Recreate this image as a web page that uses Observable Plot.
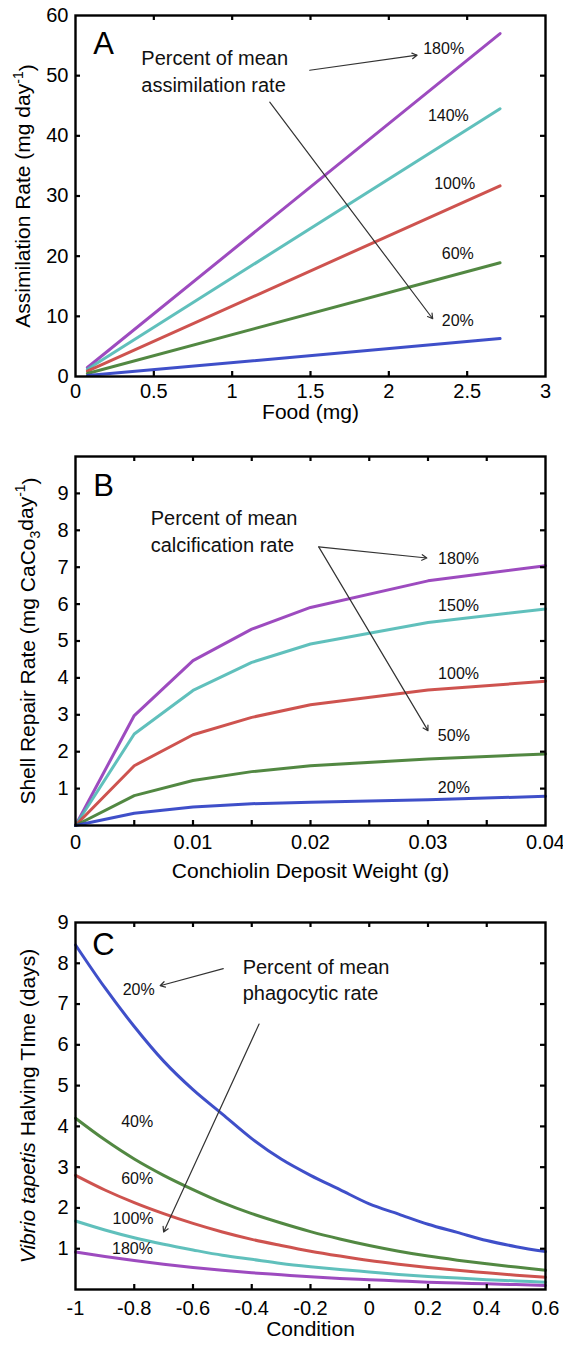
<!DOCTYPE html>
<html><head><meta charset="utf-8">
<script src="https://cdn.jsdelivr.net/npm/d3@7"></script>
<script src="https://cdn.jsdelivr.net/npm/@observablehq/plot@0.6"></script>
<style>
body{margin:0;background:#fff;}
#wrap{width:563px;}
#wrap svg{display:block;}
</style></head><body><div id="wrap"></div>
<script>
// ---------- Panel A data ----------
const foodX = [0.076, 2.71];
const assimLabels = ["180%", "140%", "100%", "60%", "20%"];
const assim180 = [1.5, 57.0];
const assim140 = [1.2, 44.5];
const assim100 = [0.9, 31.7];
const assim60 = [0.5, 18.9];
const assim20 = [0.15, 6.3];
const assimLabelX = [2.35, 2.38, 2.42, 2.44, 2.44];
const assimLabelY = [54.5, 43.4, 32.0, 20.3, 9.2];
const aXTicks = [0, 0.5, 1, 1.5, 2, 2.5, 3];
const aXTickLabels = ["0", "0.5", "1", "1.5", "2", "2.5", "3"];
const aYTicks = [0, 10, 20, 30, 40, 50, 60];
const aYTickLabels = ["0", "10", "20", "30", "40", "50", "60"];

// ---------- Panel B data ----------
const depositX = [0, 0.005, 0.01, 0.015, 0.02, 0.03, 0.04];
const calcLabels = ["180%", "150%", "100%", "50%", "20%"];
const calc180 = [0, 2.98, 4.47, 5.32, 5.91, 6.63, 7.04];
const calc150 = [0, 2.48, 3.66, 4.42, 4.92, 5.50, 5.87];
const calc100 = [0, 1.62, 2.46, 2.93, 3.27, 3.67, 3.91];
const calc50 = [0, 0.81, 1.22, 1.46, 1.62, 1.80, 1.94];
const calc20 = [0, 0.33, 0.50, 0.59, 0.63, 0.70, 0.79];
const calcLabelX = [0.0326, 0.0326, 0.0326, 0.0322, 0.0322];
const calcLabelY = [7.22, 5.96, 4.11, 2.44, 1.01];
const bXTicks = [0, 0.01, 0.02, 0.03, 0.04];
const bXTickLabels = ["0", "0.01", "0.02", "0.03", "0.04"];
const bYTicks = [1, 2, 3, 4, 5, 6, 7, 8, 9];
const bYTickLabels = ["1", "2", "3", "4", "5", "6", "7", "8", "9"];

// ---------- Panel C data ----------
const conditionX = [-1, -0.9, -0.8, -0.7, -0.6, -0.5, -0.4, -0.3, -0.2, -0.1, 0, 0.1, 0.2, 0.3, 0.4, 0.5, 0.6];
const phagoLabels = ["20%", "40%", "60%", "100%", "180%"];
const phago20 = [8.45, 7.4, 6.45, 5.6, 4.9, 4.3, 3.7, 3.2, 2.8, 2.45, 2.1, 1.85, 1.6, 1.4, 1.2, 1.05, 0.93];
const phago40 = [4.2, 3.67, 3.2, 2.8, 2.45, 2.13, 1.86, 1.63, 1.42, 1.24, 1.08, 0.94, 0.82, 0.72, 0.63, 0.55, 0.47];
const phago60 = [2.8, 2.44, 2.13, 1.86, 1.62, 1.41, 1.23, 1.08, 0.94, 0.82, 0.71, 0.62, 0.54, 0.47, 0.41, 0.35, 0.3];
const phago100 = [1.68, 1.46, 1.27, 1.11, 0.97, 0.84, 0.74, 0.64, 0.56, 0.49, 0.43, 0.37, 0.32, 0.28, 0.24, 0.21, 0.18];
const phago180 = [0.92, 0.81, 0.71, 0.62, 0.54, 0.47, 0.41, 0.36, 0.31, 0.27, 0.24, 0.21, 0.18, 0.16, 0.14, 0.12, 0.1];
const phagoLabelX = [-0.785, -0.79, -0.79, -0.804, -0.806];
const phagoLabelY = [7.36, 4.1, 2.71, 1.73, 1.0];
const cXTicks = [-1, -0.8, -0.6, -0.4, -0.2, 0, 0.2, 0.4, 0.6];
const cXTickLabels = ["-1", "-0.8", "-0.6", "-0.4", "-0.2", "0", "0.2", "0.4", "0.6"];
const cYTicks = [1, 2, 3, 4, 5, 6, 7, 8, 9];
const cYTickLabels = ["1", "2", "3", "4", "5", "6", "7", "8", "9"];

// colours (purple, cyan, red, green, blue)
const lineColors = ["#9237b8", "#4fb9b5", "#c9403c", "#3f7b2d", "#2a3cc3"];

const FONT = "'Liberation Sans', Arial, Helvetica, sans-serif";
const W = 563, ML = 75, MR = 18;

function rowsOf(xs, seriesList, labels) {
  const rows = [];
  seriesList.forEach((ys, k) => ys.forEach((y, i) => rows.push({x: xs[i], y, s: labels[k]})));
  return rows;
}

function panel(cfg) {
  const FH = cfg.height - cfg.marginTop - cfg.marginBottom;
  const FW = W - ML - MR;
  const fx = new Map(cfg.xTicks.map((d, i) => [d, cfg.xTickLabels[i]]));
  const fy = new Map(cfg.yTicks.map((d, i) => [d, cfg.yTickLabels[i]]));
  const labelRows = cfg.labels.map((t, i) => ({t, x: cfg.labelX[i], y: cfg.labelY[i]}));
  const tk = {stroke: "#000", strokeWidth: 2.2};
  const svg = Plot.plot({
    width: W, height: cfg.height,
    marginLeft: ML, marginRight: MR, marginTop: cfg.marginTop, marginBottom: cfg.marginBottom,
    style: {fontFamily: FONT, fontSize: "20px", color: "#000", background: "#fff", overflow: "visible"},
    x: {domain: cfg.xDomain, label: null},
    y: {domain: cfg.yDomain, label: null},
    color: {domain: cfg.seriesLabels, range: cfg.colors},
    marks: [
      Plot.line(cfg.rows, {x: "x", y: "y", z: "s", stroke: "s", strokeWidth: 3, curve: cfg.curve || "linear", strokeOpacity: 0.9}),
      Plot.tickX(cfg.xInner, {x: d => d, insetTop: FH - 5, ...tk}),
      Plot.tickX(cfg.xInner, {x: d => d, insetBottom: FH - 5, ...tk}),
      Plot.tickY(cfg.yInner, {y: d => d, insetRight: FW - 5, ...tk}),
      Plot.tickY(cfg.yInner, {y: d => d, insetLeft: FW - 5, ...tk}),
      Plot.frame({stroke: "#000", strokeWidth: 2.4}),
      Plot.axisX(cfg.xTicks, {anchor: "bottom", tickSize: 0, tickPadding: cfg.xPad, tickFormat: d => fx.get(d), label: null, fontSize: 20}),
      Plot.axisY(cfg.yTicks, {anchor: "left", tickSize: 0, tickPadding: 7, tickFormat: d => fy.get(d), label: null, fontSize: 20}),
      Plot.text(labelRows, {x: "x", y: "y", text: "t", fontSize: 16, fill: "#111"}),
      Plot.text(cfg.note, {x: "x", y: "y", text: "t", textAnchor: "start", fontSize: 20, fill: "#111"}),
      Plot.arrow(cfg.arrows, {x1: "x1", y1: "y1", x2: "x2", y2: "y2", stroke: "#333", strokeWidth: 1.2, headLength: 7}),
      Plot.text([cfg.letter], {x: cfg.letterX, y: cfg.letterY, text: d => d, fontSize: 31, fill: "#000"}),
      Plot.text([cfg.xTitle], {frameAnchor: "bottom", dy: cfg.xTitleDy, text: d => d, fontSize: 21, fill: "#000"}),
      Plot.text([cfg.yTitle], {frameAnchor: "left", dx: cfg.yTitleDx, rotate: -90, textAnchor: "middle", lineAnchor: "middle", text: d => d, fontSize: 21, fill: "#000"})
    ]
  });
  // rich y title (superscripts / subscripts / italics)
  d3.select(svg).selectAll("text").each(function() {
    if (this.textContent === cfg.yTitle) {
      const t = d3.select(this);
      t.text(null);
      cfg.yTitleParts.forEach(p => {
        const ts = t.append("tspan").text(p.t);
        if (p.sup) ts.attr("dy", "-0.55em").attr("font-size", "14px");
        if (p.sub) ts.attr("dy", "0.35em").attr("font-size", "14px");
        if (p.after === "sup") ts.attr("dy", "0.55em");
        if (p.after === "sub") ts.attr("dy", "-0.35em");
        if (p.italic) ts.attr("font-style", "italic");
      });
    }
  });
  return svg;
}

const wrap = document.getElementById("wrap");

// Panel A
wrap.appendChild(panel({
  height: 436, marginTop: 15, marginBottom: 60,
  xDomain: [0, 3], yDomain: [0, 60],
  xTicks: aXTicks, xTickLabels: aXTickLabels, yTicks: aYTicks, yTickLabels: aYTickLabels,
  xInner: [0.5, 1, 1.5, 2, 2.5], yInner: [10, 20, 30, 40, 50], xPad: 7,
  seriesLabels: assimLabels, colors: lineColors,
  rows: rowsOf(foodX, [assim180, assim140, assim100, assim60, assim20], assimLabels),
  labels: assimLabels, labelX: assimLabelX, labelY: assimLabelY,
  note: [{t: "Percent of mean", x: 0.42, y: 52.8}, {t: "assimilation rate", x: 0.42, y: 48.4}],
  arrows: [{x1: 1.495, y1: 50.9, x2: 2.18, y2: 53.4}, {x1: 1.24, y1: 45.6, x2: 2.28, y2: 9.6}],
  letter: "A", letterX: 0.18, letterY: 55.2,
  xTitle: "Food (mg)", xTitleDy: 42,
  yTitle: "Assimilation Rate (mg day-1)", yTitleDx: -52,
  yTitleParts: [{t: "Assimilation Rate (mg day"}, {t: "-1", sup: true}, {t: ")", after: "sup"}]
}));

// Panel B
wrap.appendChild(panel({
  height: 459, marginTop: 20, marginBottom: 70,
  xDomain: [0, 0.04], yDomain: [0, 10],
  xTicks: bXTicks, xTickLabels: bXTickLabels, yTicks: bYTicks, yTickLabels: bYTickLabels,
  xInner: [0.005, 0.01, 0.015, 0.02, 0.025, 0.03, 0.035], yInner: [1, 2, 3, 4, 5, 6, 7, 8, 9], xPad: 9,
  seriesLabels: calcLabels, colors: lineColors,
  rows: rowsOf(depositX, [calc180, calc150, calc100, calc50, calc20], calcLabels),
  labels: calcLabels, labelX: calcLabelX, labelY: calcLabelY,
  note: [{t: "Percent of mean", x: 0.0064, y: 8.32}, {t: "calcification rate", x: 0.0064, y: 7.59}],
  arrows: [{x1: 0.0207, y1: 7.55, x2: 0.0299, y2: 7.25}, {x1: 0.0207, y1: 7.55, x2: 0.0300, y2: 2.57}],
  letter: "B", letterX: 0.0024, letterY: 9.21,
  xTitle: "Conchiolin Deposit Weight (g)", xTitleDy: 52,
  yTitle: "Shell Repair Rate (mg CaCo3day-1)", yTitleDx: -47,
  yTitleParts: [{t: "Shell Repair Rate (mg CaCo"}, {t: "3", sub: true}, {t: "day", after: "sub"}, {t: "-1", sup: true}, {t: ")", after: "sup"}]
}));

// Panel C
wrap.appendChild(panel({
  height: 450, marginTop: 27, marginBottom: 56,
  xDomain: [-1, 0.6], yDomain: [0, 9],
  xTicks: cXTicks, xTickLabels: cXTickLabels, yTicks: cYTicks, yTickLabels: cYTickLabels,
  xInner: [-0.8, -0.6, -0.4, -0.2, 0, 0.2, 0.4], yInner: [1, 2, 3, 4, 5, 6, 7, 8], xPad: 11,
  seriesLabels: phagoLabels, colors: [lineColors[4], lineColors[3], lineColors[2], lineColors[1], lineColors[0]],
  rows: rowsOf(conditionX, [phago20, phago40, phago60, phago100, phago180], phagoLabels),
  curve: "monotone-x",
  labels: phagoLabels, labelX: phagoLabelX, labelY: phagoLabelY,
  note: [{t: "Percent of mean", x: -0.431, y: 7.9}, {t: "phagocytic rate", x: -0.431, y: 7.26}],
  arrows: [{x1: -0.497, y1: 7.87, x2: -0.712, y2: 7.45}, {x1: -0.375, y1: 6.51, x2: -0.70, y2: 1.41}],
  letter: "C", letterX: -0.905, letterY: 8.44,
  xTitle: "Condition", xTitleDy: 46,
  yTitle: "Vibrio tapetis Halving TIme (days)", yTitleDx: -47,
  yTitleParts: [{t: "Vibrio tapetis", italic: true}, {t: " Halving TIme (days)"}]
}));
</script>
</body></html>
